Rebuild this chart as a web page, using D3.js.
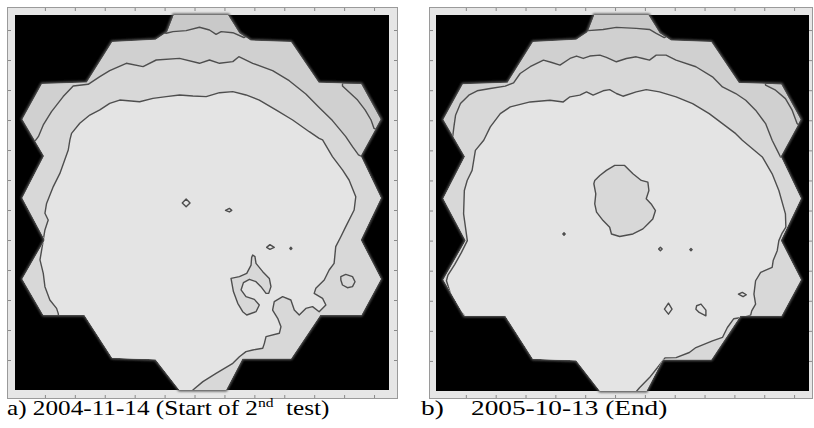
<!DOCTYPE html>
<html>
<head>
<meta charset="utf-8">
<script src="https://cdn.jsdelivr.net/npm/d3@7/dist/d3.min.js"></script>
<style>
  body { margin: 0; background: #fff; }
  svg text { white-space: pre; }
</style>
</head>
<body>
<svg id="chart" width="814" height="428"></svg>
<script>
// Grid units: 25 x 25 cells over the measured slab.

// Outline of the instrumented area (same for both surveys)
const outline = [[10.6,0],[14.25,0],[15.0,1.2],[15.75,1.7],[18.45,1.8],[20.3,4.52],[23.15,4.6],[24.45,6.95],[23.1,9.4],[24.45,12.2],[23.1,15.0],[24.45,17.6],[23.15,20.0],[20.4,20.0],[18.45,22.9],[15.2,22.9],[14.1,25],[11.0,25],[9.4,22.95],[6.5,22.85],[4.65,20.0],[1.9,20.0],[0.5,17.6],[2.0,15.0],[0.5,12.2],[1.95,9.4],[0.5,6.95],[1.8,4.6],[4.8,4.5],[6.5,1.8],[9.4,1.65],[10.15,1.15]];

const xTicks = [2,4,6,8,10,12,14,16,18,20,22,24];
const yTicks = [1,3,5,7,9,11,13,15,17,19,21,23];

// Survey a) 2004-11-14: rings enclosing the area above each contour level
const aLevel1 = [[-1,1.22],[8.78,1.22],[10.11,1.22],[10.56,1.11],[11.44,1.04],[12.33,0.82],[13.0,1.0],[13.44,1.29],[13.78,1.11],[14.56,1.18],[15.3,1.5],[16.5,0.9],[21.0,0.9],[21.9,4.0],[21.89,4.73],[22.9,5.67],[23.4,6.33],[23.8,7.0],[24.0,7.56],[24.8,7.9],[26,7.9],[26,26],[-1,26]];
const aLevel2 = [[-1,9.44],[0.33,9.44],[1.22,8.56],[1.56,8.11],[1.89,7.33],[2.44,6.44],[3.22,5.44],[3.89,4.73],[4.89,4.62],[5.67,4.11],[6.33,3.71],[7.44,3.22],[8.56,3.44],[9.44,3.0],[11.0,2.89],[12.33,3.22],[13.0,3.0],[13.67,3.22],[14.56,3.11],[14.96,2.78],[15.89,3.22],[17.22,3.71],[18.33,4.38],[19.44,5.27],[20.33,6.16],[21.22,7.04],[22.11,8.11],[22.56,8.78],[22.96,9.33],[23.67,9.67],[26,9.67],[26,26],[-1,26]];
const aLevel3 = [[3.0,20.8],[2.89,19.89],[2.78,19.56],[2.33,19.0],[2.0,18.11],[1.89,17.22],[1.67,16.33],[1.78,15.67],[2.0,14.33],[2.22,13.67],[2.0,13.22],[2.11,12.56],[2.56,11.44],[3.0,10.56],[3.56,9.0],[3.67,8.33],[3.78,7.89],[4.33,7.22],[5.0,6.67],[5.67,6.33],[6.33,5.89],[7.0,5.67],[8.33,5.78],[9.22,5.56],[10.11,5.44],[11.0,5.33],[11.89,5.4],[12.78,5.44],[13.67,5.18],[14.56,5.11],[15.44,5.33],[16.33,5.67],[17.44,6.33],[18.56,7.0],[19.67,7.78],[20.33,8.22],[20.56,8.33],[21.22,9.44],[21.89,10.33],[22.33,11.0],[22.78,12.11],[22.67,13.0],[22.11,14.11],[21.78,14.78],[21.44,15.44],[21.33,16.56],[21.0,17.0],[20.67,17.67],[20.11,18.22],[20.0,18.56],[20.56,18.89],[20.78,19.33],[20.33,19.78],[19.89,19.44],[19.44,19.56],[19.0,20.0],[18.67,19.67],[18.44,19.0],[17.89,18.78],[17.33,19.11],[17.22,19.67],[17.56,20.22],[17.78,20.78],[17.67,21.22],[16.78,21.44],[16.67,21.89],[16.56,22.22],[15.89,22.33],[15.44,22.44],[15.0,22.78],[14.56,23.22],[13.44,23.89],[12.56,24.44],[11.89,25.0],[11.78,25.8],[3.0,25.8]];
// lower pocket below the third level
const aPocket = [[15.89,16.0],[16.04,16.11],[16.11,16.56],[16.56,17.11],[17.0,17.56],[17.11,18.11],[16.96,18.56],[16.78,18.56],[16.44,18.11],[16.11,17.78],[15.67,17.62],[15.27,17.84],[15.11,18.33],[15.44,18.78],[16.0,18.96],[16.33,19.33],[16.11,19.78],[15.49,20.0],[15.22,19.78],[14.89,19.22],[14.6,18.44],[14.44,17.56],[15.0,17.44],[15.49,17.22],[15.78,16.67],[15.82,16.16]];
// small closed contours
const aLoops = [
  [[21.78,17.44],[22.11,17.29],[22.56,17.44],[22.73,17.78],[22.56,18.11],[22.22,18.18],[21.89,18.0],[21.78,17.67]],
  [[11.44,12.27],[11.7,12.53],[11.44,12.79],[11.18,12.53]],
  [[14.07,13.02],[14.33,12.89],[14.49,13.02],[14.33,13.13]],
  [[16.82,15.49],[17.04,15.31],[17.33,15.49],[17.04,15.62]],
  [[18.37,15.56],[18.44,15.49],[18.51,15.56],[18.44,15.63]]
];

// Survey b) 2005-10-13
const bLevel1 = [[-1,1.04],[8.98,1.04],[10.2,1.04],[11.2,0.96],[12.09,0.82],[13.42,0.89],[14.31,0.96],[14.76,1.22],[15.3,1.5],[16.5,0.9],[21.0,0.9],[22.0,4.0],[22.09,4.67],[22.76,5.0],[23.42,5.56],[23.87,6.33],[24.2,7.22],[25.0,7.9],[26,7.9],[26,26],[-1,26]];
const bLevel2 = [[-1,8.78],[0.09,8.78],[1.09,8.33],[1.2,7.44],[1.31,6.67],[1.64,5.89],[2.2,5.33],[2.76,5.04],[3.64,4.89],[4.64,4.73],[5.2,4.51],[5.64,3.89],[6.31,3.44],[7.2,3.0],[7.76,3.16],[8.31,3.33],[8.98,2.89],[9.42,2.73],[9.87,2.89],[10.31,2.73],[10.98,2.67],[11.42,2.82],[12.09,3.11],[12.76,2.89],[13.42,2.78],[13.87,2.89],[14.31,3.0],[14.76,2.67],[15.42,2.67],[16.09,3.0],[17.42,3.44],[18.53,4.11],[19.2,4.78],[20.09,5.22],[20.76,5.67],[21.42,6.33],[22.09,7.22],[22.53,8.33],[22.87,9.0],[23.09,9.44],[23.64,9.67],[26,9.67],[26,26],[-1,26]];
const bLevel3 = [[1.9,20.8],[1.87,19.96],[1.42,19.44],[0.98,18.56],[0.7,17.67],[0.8,17.3],[1.25,16.6],[1.7,15.8],[2.1,15.0],[1.85,13.22],[1.9,11.67],[2.09,11.0],[2.42,10.33],[2.64,9.0],[3.2,8.33],[3.64,7.44],[4.31,6.56],[4.98,6.11],[6.31,5.78],[7.64,5.67],[8.53,5.78],[8.98,5.44],[9.64,5.33],[10.09,5.11],[10.53,5.33],[11.2,5.04],[11.64,4.96],[12.09,5.22],[12.53,5.4],[13.42,5.11],[14.09,4.96],[14.98,5.11],[16.09,5.44],[17.2,5.89],[18.31,6.56],[19.2,7.22],[20.09,7.89],[20.53,8.33],[21.87,9.44],[22.53,10.56],[22.98,11.67],[23.42,13.22],[23.45,14.11],[23.2,14.5],[22.98,15.0],[22.87,15.67],[22.6,16.33],[22.53,16.78],[21.76,17.11],[21.42,17.67],[21.31,18.56],[21.42,19.22],[21.16,19.67],[21.09,19.95],[20.6,20.1],[19.95,20.2],[19.53,20.78],[19.2,21.44],[18.53,21.67],[17.42,22.11],[16.98,22.44],[16.09,22.78],[15.35,22.8],[14.85,23.44],[14.31,24.11],[13.64,24.78],[13.42,25.04],[13.3,25.8],[1.9,25.8]];
// central pocket below the third level
const bPocket = [[10.64,11.0],[10.98,10.67],[11.42,10.33],[11.98,10.0],[12.64,10.0],[13.2,10.56],[13.76,11.0],[14.2,11.11],[14.27,11.67],[14.09,12.22],[14.42,12.56],[14.71,13.0],[14.53,13.56],[14.2,13.89],[13.87,14.22],[13.2,14.56],[12.31,14.73],[11.76,14.56],[11.64,14.11],[11.2,13.67],[10.76,13.11],[10.64,12.56],[10.71,11.89],[10.58,11.22]];
const bLoops = [
  [[8.5,14.56],[8.58,14.48],[8.66,14.56],[8.58,14.64]],
  [[14.92,15.56],[15.04,15.44],[15.16,15.56],[15.04,15.68]],
  [[17.01,15.6],[17.09,15.52],[17.17,15.6],[17.09,15.68]],
  [[15.31,19.56],[15.58,19.16],[15.82,19.56],[15.58,19.89]],
  [[17.47,19.33],[17.76,19.22],[18.09,19.62],[18.09,20.0],[17.64,19.78],[17.42,19.56]],
  [[20.27,18.56],[20.53,18.44],[20.8,18.6],[20.58,18.73]]
];

const levelFills = ["#c9c9c9", "#d0d0d0", "#d8d8d8", "#e4e4e4"];

const captions = [
  { tag: "a)", pre: " 2004-11-14 (Start of 2", sup: "nd", post: "  test)", left: 7, stretch: 1.2 },
  { tag: "b)", pre: "    2005-10-13 (End)", sup: "", post: "", left: 421, stretch: 1.3 }
];

const svg = d3.select("#chart");
const defs = svg.append("defs");
defs.append("filter").attr("id", "soft")
  .attr("x", "-5%").attr("y", "-5%").attr("width", "110%").attr("height", "110%")
  .append("feGaussianBlur").attr("stdDeviation", 1.1);

const panels = [
  { id: "a", frame: [7, 7, 397, 398], plot: [15, 15, 389, 390],
    levels: [aLevel1, aLevel2, aLevel3], pockets: [aPocket], loops: aLoops, caption: captions[0] },
  { id: "b", frame: [429, 7, 812, 398], plot: [436, 15, 809, 391],
    levels: [bLevel1, bLevel2, bLevel3], pockets: [bPocket], loops: bLoops, caption: captions[1] }
];

panels.forEach(p => {
  const [fx0, fy0, fx1, fy1] = p.frame;
  const [px0, py0, px1, py1] = p.plot;
  const x = d3.scaleLinear().domain([0, 25]).range([px0, px1]);
  const y = d3.scaleLinear().domain([0, 25]).range([py0, py1]);
  const ring = d3.line().x(d => x(d[0])).y(d => y(d[1]));
  const closed = pts => ring(pts) + "Z";

  const g = svg.append("g");

  // frame
  g.append("rect")
    .attr("x", fx0 + 0.5).attr("y", fy0 + 0.5)
    .attr("width", fx1 - fx0).attr("height", fy1 - fy0)
    .attr("fill", "#e6e6e6").attr("stroke", "#9a9a9a").attr("stroke-width", 1);

  // tick marks on all four frame edges
  const tickLen = 3;
  const xTop = d3.axisBottom(x).tickValues(xTicks).tickSize(tickLen).tickFormat("");
  const xBot = d3.axisTop(x).tickValues(xTicks).tickSize(tickLen).tickFormat("");
  const yLeft = d3.axisRight(y).tickValues(yTicks).tickSize(tickLen).tickFormat("");
  const yRight = d3.axisLeft(y).tickValues(yTicks).tickSize(tickLen).tickFormat("");
  [[xTop, `translate(0,${fy0 + 1})`], [xBot, `translate(0,${fy1})`],
   [yLeft, `translate(${fx0 + 1},0)`], [yRight, `translate(${fx1},0)`]].forEach(([ax, tr]) => {
    const a = g.append("g").attr("transform", tr).call(ax);
    a.select(".domain").remove();
    a.selectAll(".tick line").attr("stroke", "#8a8a8a");
  });

  // empty (unmeasured) area
  g.append("rect")
    .attr("x", px0).attr("y", py0)
    .attr("width", px1 - px0).attr("height", py1 - py0)
    .attr("fill", "#000");

  const clipId = "clip-" + p.id;
  defs.append("clipPath").attr("id", clipId)
    .append("path").attr("d", closed(outline));

  // soft rim around the outline
  g.append("path").attr("d", closed(outline))
    .attr("fill", "#3c3c3c").attr("stroke", "#5a5a5a").attr("stroke-width", 3)
    .attr("filter", "url(#soft)");

  const inner = g.append("g").attr("clip-path", `url(#${clipId})`);
  inner.append("path").attr("d", closed(outline)).attr("fill", levelFills[0]);
  p.levels.forEach((r, i) => {
    inner.append("path").attr("d", closed(r)).attr("fill", levelFills[i + 1]);
  });
  p.pockets.forEach(r => {
    inner.append("path").attr("d", closed(r)).attr("fill", levelFills[2]);
  });

  const lines = inner.append("g")
    .attr("fill", "none").attr("stroke", "#4e4e4e")
    .attr("stroke-width", 1.4).attr("stroke-linejoin", "round");
  [...p.levels, ...p.pockets, ...p.loops].forEach(r => {
    lines.append("path").attr("d", closed(r));
  });

  // caption
  const c = p.caption;
  const t = svg.append("text")
    .attr("transform", `translate(${c.left},415) scale(${c.stretch},1)`)
    .attr("font-family", "'Liberation Serif', 'Times New Roman', serif")
    .attr("font-size", 21).attr("fill", "#000");
  t.append("tspan").text(c.tag + c.pre);
  if (c.sup) {
    t.append("tspan").attr("font-size", 13).attr("dy", -8).text(c.sup);
    t.append("tspan").attr("dy", 8).text(c.post);
  }
});
</script>
</body>
</html>
